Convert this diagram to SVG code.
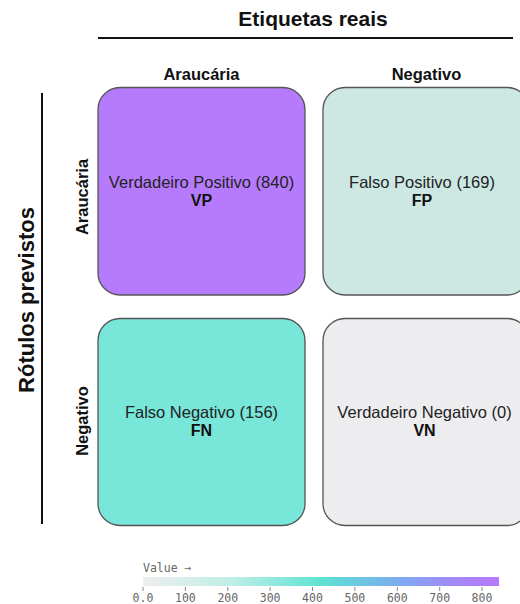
<svg xmlns="http://www.w3.org/2000/svg" width="520" height="604" viewBox="0 0 520 604">
  <defs>
    <style>
      .title { font-family: "Liberation Sans", Arial, sans-serif; font-weight: bold; fill: #111; }
      .cell { stroke: #555; stroke-width: 1.3; }
      .lbl { font-family: "Liberation Sans", Arial, sans-serif; font-size: 16.5px; fill: #222; text-anchor: middle; }
      .abbr { font-family: "Liberation Sans", Arial, sans-serif; font-size: 16px; font-weight: bold; fill: #111; text-anchor: middle; }
      .mono { font-family: "DejaVu Sans Mono", "Liberation Mono", monospace; fill: #666; }
      .tick { stroke: #888; stroke-width: 1; }
    </style>
    <linearGradient id="cbar" x1="0" y1="0" x2="1" y2="0">
      <stop offset="0" stop-color="#eeeeee"/>
      <stop offset="0.25" stop-color="#bfeee6"/>
      <stop offset="0.5" stop-color="#5ee3d3"/>
      <stop offset="0.62" stop-color="#6cc4e2"/>
      <stop offset="0.74" stop-color="#83a6f2"/>
      <stop offset="0.87" stop-color="#a18af9"/>
      <stop offset="1" stop-color="#b878fe"/>
    </linearGradient>
  </defs>

  <g id="axis-titles">
    <text class="title" x="313" y="26" font-size="21" text-anchor="middle">Etiquetas reais</text>
    <line x1="98" y1="38" x2="513" y2="38" stroke="#111" stroke-width="2"/>
    <text class="title" x="201.5" y="80" font-size="16.5" text-anchor="middle">Araucária</text>
    <text class="title" x="426.5" y="80" font-size="16.5" text-anchor="middle">Negativo</text>
    <text class="title" transform="translate(34,300) rotate(-90)" font-size="22" text-anchor="middle">Rótulos previstos</text>
    <line x1="42" y1="93" x2="42" y2="524" stroke="#111" stroke-width="2"/>
    <text class="title" transform="translate(88,197) rotate(-90)" font-size="16.5" text-anchor="middle">Araucária</text>
    <text class="title" transform="translate(88,421) rotate(-90)" font-size="16.5" text-anchor="middle">Negativo</text>
  </g>

  <g id="node-vp">
    <rect class="cell" x="98" y="87.5" width="207" height="207.5" rx="22" ry="22" fill="#b67bfd"/>
    <text class="lbl" x="201.5" y="188">Verdadeiro Positivo (840)</text>
    <text class="abbr" x="201.5" y="206">VP</text>
  </g>
  <g id="node-fp">
    <rect class="cell" x="323" y="87.5" width="206" height="207.5" rx="22" ry="22" fill="#cde8e3"/>
    <text class="lbl" x="422" y="188">Falso Positivo (169)</text>
    <text class="abbr" x="422" y="206">FP</text>
  </g>
  <g id="node-fn">
    <rect class="cell" x="98" y="318.5" width="207" height="207" rx="22" ry="22" fill="#78e6d9"/>
    <text class="lbl" x="201.5" y="418">Falso Negativo (156)</text>
    <text class="abbr" x="201.5" y="436">FN</text>
  </g>
  <g id="node-vn">
    <rect class="cell" x="323" y="318.5" width="206" height="207" rx="22" ry="22" fill="#ededef"/>
    <text class="lbl" x="424.5" y="418">Verdadeiro Negativo (0)</text>
    <text class="abbr" x="424.5" y="436">VN</text>
  </g>

  <g id="connectors"></g>

  <g id="colorbar">
    <text class="mono" x="143" y="572" font-size="11.5">Value →</text>
    <rect x="143" y="577" width="356" height="9" fill="url(#cbar)"/>
    <g class="tick">
      <line x1="143" y1="587" x2="143" y2="591"/>
      <line x1="185.4" y1="587" x2="185.4" y2="591"/>
      <line x1="227.8" y1="587" x2="227.8" y2="591"/>
      <line x1="270.1" y1="587" x2="270.1" y2="591"/>
      <line x1="312.5" y1="587" x2="312.5" y2="591"/>
      <line x1="354.9" y1="587" x2="354.9" y2="591"/>
      <line x1="397.3" y1="587" x2="397.3" y2="591"/>
      <line x1="439.7" y1="587" x2="439.7" y2="591"/>
      <line x1="482" y1="587" x2="482" y2="591"/>
    </g>
    <g class="mono" font-size="11.5" text-anchor="middle">
      <text x="143" y="602">0.0</text>
      <text x="185.4" y="602">100</text>
      <text x="227.8" y="602">200</text>
      <text x="270.1" y="602">300</text>
      <text x="312.5" y="602">400</text>
      <text x="354.9" y="602">500</text>
      <text x="397.3" y="602">600</text>
      <text x="439.7" y="602">700</text>
      <text x="482" y="602">800</text>
    </g>
  </g>
</svg>
